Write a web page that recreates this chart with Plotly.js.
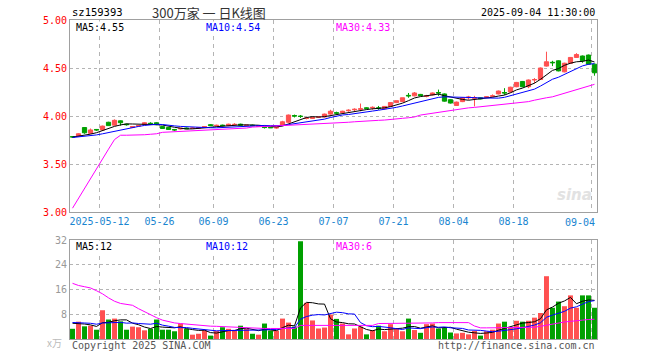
<!DOCTYPE html>
<html><head><meta charset="utf-8">
<script src="https://cdn.plot.ly/plotly-3.0.1.min.js"></script>
<style>html,body{margin:0;padding:0;background:#fff}#c{width:660px;height:360px}</style>
</head><body><div id="c"></div>
<script>
// ---- data ----
const tickIdx = [5, 15, 24, 34, 44, 54, 64, 74, 87];
const tickLabels = ["2025-05-12", "05-26", "06-09", "06-23", "07-07", "07-21", "08-04", "08-18", "09-04"];

const openP = [3.785,3.79,3.88,3.82,3.86,3.855,3.935,3.905,3.95,3.915, 3.88,3.895,3.91,3.925,3.93,3.89,3.88,3.86,3.865,3.875, 3.87,3.875,3.88,3.91,3.90,3.905,3.90,3.91,3.915,3.90, 3.905,3.893,3.885,3.882,3.875,3.905,3.935,4.005,4.00,3.975, 3.975,3.988,3.99,4.02,4.035,4.035,4.055,4.065,4.07,4.085, 4.085,4.085,4.076,4.10,4.14,4.15,4.215,4.21,4.225,4.205, 4.22,4.245,4.23,4.17,4.11,4.15,4.19,4.185,4.19,4.195, 4.205,4.23,4.245,4.25,4.305,4.36,4.305,4.375,4.38,4.52, 4.56,4.575,4.46,4.55,4.61,4.625,4.635,4.54];
const highP = [3.79,3.82,3.885,3.87,3.865,3.90,3.94,3.965,3.955,3.92, 3.895,3.905,3.935,3.935,3.935,3.895,3.885,3.865,3.875,3.88, 3.88,3.885,3.895,3.915,3.91,3.91,3.92,3.925,3.92,3.91, 3.91,3.90,3.89,3.885,3.89,3.95,4.015,4.015,4.01,3.985, 3.99,3.995,4.025,4.065,4.045,4.055,4.07,4.08,4.13,4.09, 4.10,4.105,4.10,4.14,4.16,4.19,4.24,4.25,4.23,4.22, 4.245,4.275,4.235,4.175,4.15,4.195,4.21,4.21,4.195,4.205, 4.225,4.265,4.29,4.305,4.355,4.365,4.38,4.395,4.505,4.67, 4.575,4.58,4.555,4.615,4.655,4.63,4.64,4.545];
const lowP = [3.775,3.785,3.815,3.815,3.845,3.85,3.90,3.90,3.90,3.90, 3.875,3.89,3.905,3.91,3.905,3.865,3.855,3.845,3.86,3.865, 3.865,3.865,3.878,3.895,3.89,3.895,3.895,3.905,3.90,3.895, 3.895,3.89,3.87,3.875,3.868,3.90,3.93,3.985,3.98,3.965, 3.97,3.98,3.985,4.015,4.02,4.03,4.045,4.05,4.05,4.07, 4.065,4.065,4.07,4.095,4.135,4.145,4.19,4.205,4.21,4.195, 4.215,4.21,4.15,4.13,4.105,4.145,4.17,4.10,4.175,4.19, 4.195,4.225,4.22,4.245,4.30,4.30,4.29,4.34,4.375,4.515, 4.52,4.465,4.455,4.545,4.605,4.555,4.535,4.42];
const closeP = [3.782,3.815,3.825,3.855,3.855,3.895,3.90,3.955,3.93,3.91, 3.89,3.90,3.93,3.92,3.91,3.87,3.86,3.855,3.872,3.868, 3.875,3.878,3.89,3.90,3.903,3.90,3.915,3.913,3.905,3.905, 3.90,3.898,3.88,3.878,3.88,3.94,4.01,4.00,3.995,3.978, 3.985,3.99,4.02,4.05,4.03,4.05,4.06,4.07,4.075,4.08, 4.09,4.08,4.10,4.14,4.16,4.19,4.21,4.24,4.212,4.21, 4.24,4.24,4.155,4.135,4.145,4.19,4.197,4.19,4.18,4.20, 4.21,4.26,4.24,4.30,4.35,4.305,4.375,4.38,4.50,4.565, 4.555,4.47,4.55,4.61,4.64,4.575,4.54,4.45];
const preCloses = [3.76,3.77,3.77,3.78,3.78,3.77,3.78,3.79,3.78];
const priceMa30 = [3.04,3.145,3.25,3.35,3.45,3.55,3.655,3.755,3.80,3.80, 3.80,3.80,3.805,3.81,3.815,3.83,3.833,3.835,3.835,3.84, 3.845,3.85,3.85,3.855,3.855,3.86,3.86,3.865,3.87,3.875, 3.885,3.888,3.89,3.89,3.892,3.895,3.90,3.905,3.907,3.91, 3.915,3.92,3.922,3.925,3.93,3.932,3.935,3.94,3.942,3.945, 3.948,3.955,3.958,3.962,3.97,3.976,3.982,3.99,4.01,4.02, 4.03,4.04,4.05,4.06,4.07,4.077,4.085,4.09,4.097,4.103, 4.11,4.117,4.124,4.13,4.138,4.145,4.15,4.165,4.18,4.19, 4.20,4.218,4.236,4.255,4.275,4.295,4.313,4.33];

const volume = [3.3,5.6,4.1,4.3,3.0,9.3,6.3,6.6,5.7,3.0, 4.0,3.8,2.8,3.3,6.3,3.0,3.0,2.5,5.0,3.3, 1.4,1.7,2.8,1.1,2.6,3.8,3.3,2.8,4.3,3.3, 1.7,1.4,5.0,2.7,2.7,6.6,5.3,4.0,31.6,11.7, 6.0,3.4,3.7,7.9,6.5,5.0,1.5,3.4,4.0,1.5, 2.9,4.3,2.5,4.8,3.4,2.5,6.6,2.9,2.0,4.8, 5.0,3.4,3.6,2.1,1.8,2.0,1.5,2.6,1.1,2.5, 3.0,5.0,5.6,3.6,5.9,5.6,5.9,6.9,8.4,20.3, 10.1,12.1,10.6,14.1,10.1,14.1,14.1,10.1];
const preVolumes = [5.5,5.8,5.2,6.0,5.4,5.6,5.3,5.7,5.5];
const volMa30 = [18.0,17.3,16.9,16.5,15.6,14.6,13.3,12.2,11.5,11.3, 10.9,9.8,8.8,7.9,6.9,6.1,5.6,5.2,5.0,4.8, 4.7,4.5,4.3,4.15,4.1,4.0,3.9,3.85,3.8,3.6, 3.4,3.4,3.4,3.4,3.4,3.4,3.4,3.4,4.4,4.4, 4.4,4.4,4.4,4.4,4.4,4.4,4.4,4.4,4.4,4.4, 4.4,5.0,5.0,5.0,5.0,5.0,5.1,5.1,5.2,5.2, 5.2,5.3,5.3,5.3,5.3,5.3,5.3,4.2,3.6,3.6, 3.6,3.6,3.6,3.6,3.6,3.6,3.6,3.8,4.1,4.5, 4.8,5.2,5.5,5.7,6.0,6.1,6.3,6.4];

// ---- derived ----
const idx = closeP.map((_, i) => i);
function movingAvg(pre, vals, n) {
  const all = pre.concat(vals);
  return vals.map((_, i) => {
    const end = pre.length + i + 1;
    const s = all.slice(end - n, end);
    return s.reduce((a, b) => a + b, 0) / s.length;
  });
}
const ma5 = movingAvg(preCloses, closeP, 5);
const ma10 = movingAvg(preCloses, closeP, 10);
const vma5 = movingAvg(preVolumes, volume, 5);
const vma10 = movingAvg(preVolumes, volume, 10);

const RED = '#ff5050', GREEN = '#00a000';
const volColors = closeP.map((c, i) => c >= openP[i] ? RED : GREEN);

const mono = 'DejaVu Sans Mono, Liberation Mono, monospace';
const gridX = tickIdx.map(i => i - 0.5);

const traces = [
  {type: 'candlestick', x: idx, open: openP, high: highP, low: lowP, close: closeP,
   xaxis: 'x', yaxis: 'y',
   increasing: {line: {color: RED, width: 1}, fillcolor: RED},
   decreasing: {line: {color: GREEN, width: 1}, fillcolor: GREEN},
   whiskerwidth: 0, hoverinfo: 'skip', showlegend: false},
  {type: 'scatter', mode: 'lines', x: idx, y: ma5, xaxis: 'x', yaxis: 'y', line: {color: '#000', width: 1}, hoverinfo: 'skip', showlegend: false},
  {type: 'scatter', mode: 'lines', x: idx, y: ma10, xaxis: 'x', yaxis: 'y', line: {color: '#0000ff', width: 1}, hoverinfo: 'skip', showlegend: false},
  {type: 'scatter', mode: 'lines', x: idx, y: priceMa30, xaxis: 'x', yaxis: 'y', line: {color: '#ff00ff', width: 1}, hoverinfo: 'skip', showlegend: false},
  {type: 'bar', x: idx, y: volume, xaxis: 'x2', yaxis: 'y2', marker: {color: volColors, line: {width: 0}}, width: 0.83, hoverinfo: 'skip', showlegend: false},
  {type: 'scatter', mode: 'lines', x: idx, y: vma5, xaxis: 'x2', yaxis: 'y2', line: {color: '#000', width: 1}, hoverinfo: 'skip', showlegend: false},
  {type: 'scatter', mode: 'lines', x: idx, y: vma10, xaxis: 'x2', yaxis: 'y2', line: {color: '#0000ff', width: 1}, hoverinfo: 'skip', showlegend: false},
  {type: 'scatter', mode: 'lines', x: idx, y: volMa30, xaxis: 'x2', yaxis: 'y2', line: {color: '#ff00ff', width: 1}, hoverinfo: 'skip', showlegend: false}
];

const xr = [-0.42, idx.length - 1 + 0.42];
const axisCommon = {showline: true, mirror: true, linecolor: '#a0a0a0', linewidth: 1, zeroline: false, fixedrange: true};

const ann = [];
function txt(text, x, y, xanchor, color, size, family, extra) {
  ann.push(Object.assign({text: text, x: x, y: y, xref: 'paper', yref: 'paper', xanchor: xanchor, yanchor: 'middle',
    showarrow: false, font: {family: family || mono, size: size || 10, color: color}}, extra || {}));
}
const bg = {bgcolor: '#fff', borderpad: 0};
txt('sz159393', 0, 1.025, 'left', '#000', 10.5);
txt('300万家 一 日K线图', 0.264, 1.025, 'center', '#333', 13, 'Noto Sans CJK SC');
txt('2025-09-04 11:30:00', 1, 1.025, 'right', '#000', 10);
txt('MA5:4.55', 0.0095, 0.978, 'left', '#000', 10, null, bg);
txt('MA10:4.54', 0.256, 0.978, 'left', '#0000ff', 10, null, bg);
txt('MA30:4.33', 0.503, 0.978, 'left', '#ff00ff', 10, null, bg);
txt('MA5:12', 0.0095, 0.2915, 'left', '#000', 10, null, bg);
txt('MA10:12', 0.256, 0.2915, 'left', '#0000ff', 10, null, bg);
txt('MA30:6', 0.503, 0.2915, 'left', '#ff00ff', 10, null, bg);
txt('Copyright 2025 SINA.COM', 0, -0.02, 'left', '#555');
txt('http://finance.sina.com.cn', 1, -0.02, 'right', '#555');
txt('x万', -0.012, -0.01, 'right', '#bbb', 10, 'Noto Sans CJK SC');
txt(tickLabels[tickLabels.length - 1], 1, 0.365, 'right', '#1a85d0');
txt('sina', 0.995, 0.45, 'right', '#e2e2e2', 15, 'DejaVu Sans', {font: {family: 'DejaVu Sans', size: 15, color: '#e2e2e2', weight: 'bold', style: 'italic'}});

const layout = {
  width: 660, height: 360,
  margin: {l: 70, r: 63, t: 20, b: 21, pad: 0},
  paper_bgcolor: '#fff', plot_bgcolor: '#fff',
  showlegend: false, boxgap: 0.3, boxgroupgap: 0, bargap: 0.17,
  xaxis: Object.assign({}, axisCommon, {anchor: 'y', range: xr, tickmode: 'array', tickvals: gridX,
    ticktext: tickLabels.map((t, i) => i === tickLabels.length - 1 ? '' : t),
    showgrid: true, gridcolor: '#b4b4b4', griddash: '4px,4px', ticks: '',
    tickfont: {family: mono, size: 10, color: '#1a85d0'}, rangeslider: {visible: false}}),
  yaxis: Object.assign({}, axisCommon, {domain: [0.398, 1], range: [3, 5], tickmode: 'array',
    tickvals: [3, 3.5, 4, 4.5, 5], ticktext: ['3.00', '3.50', '4.00', '4.50', '5.00'],
    showgrid: true, gridcolor: '#b4b4b4', griddash: 'dot', ticks: '',
    tickfont: {family: mono, size: 10, color: '#ff0000'}}),
  xaxis2: Object.assign({}, axisCommon, {anchor: 'y2', range: xr, tickmode: 'array', tickvals: gridX,
    showticklabels: false, showgrid: true, gridcolor: '#b4b4b4', griddash: '4px,4px', ticks: ''}),
  yaxis2: Object.assign({}, axisCommon, {domain: [0, 0.3103], range: [0, 32], tickmode: 'array',
    tickvals: [8, 16, 24, 32], ticktext: ['8', '16', '24', '32'],
    showgrid: true, gridcolor: '#b4b4b4', griddash: 'dot', ticks: '',
    tickfont: {family: mono, size: 10, color: '#999'}}),
  annotations: ann
};

Plotly.newPlot('c', traces, layout, {staticPlot: true, displayModeBar: false});
</script>
</body></html>
